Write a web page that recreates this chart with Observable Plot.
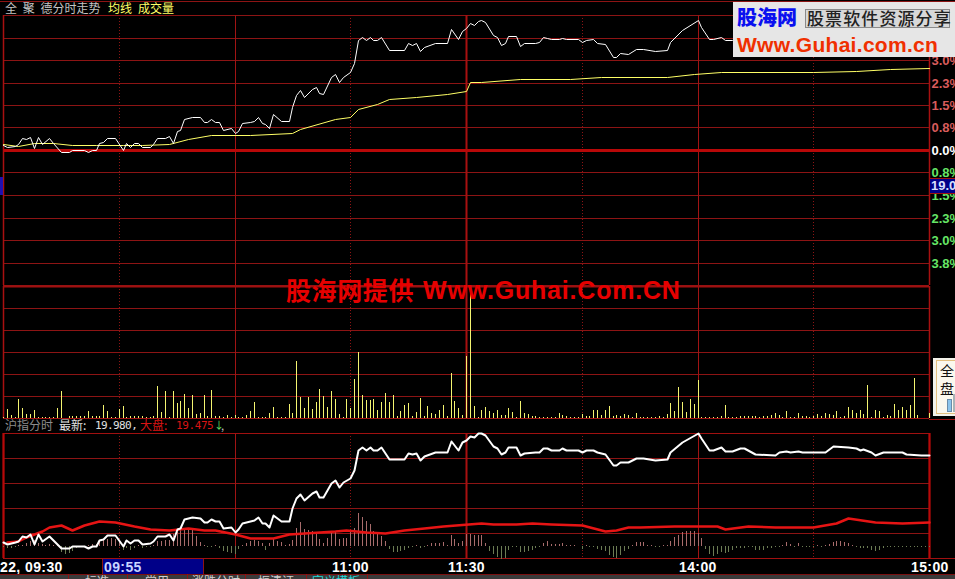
<!DOCTYPE html>
<html>
<head>
<meta charset="utf-8">
<script src="https://cdn.jsdelivr.net/npm/d3@7"></script>
<script src="https://cdn.jsdelivr.net/npm/@observablehq/plot@0.6"></script>
<style>
html,body{margin:0;padding:0;background:#000;overflow:hidden}
#stage{position:relative;width:955px;height:579px;background:#000;overflow:hidden;font-family:"Noto Sans CJK SC",sans-serif}
#stage svg{position:absolute;left:0;background:transparent;overflow:visible;max-width:none}
.t{position:absolute;white-space:pre;line-height:1}
.box{position:absolute}
</style>
</head>
<body>
<div id="stage"></div>
<script>
// Stock price, % change from previous close, by minute of the session (0 = 09:30, 240 = 15:00)
const priceMinutes = [0,1,3,4,5,6,7,8,9,10,12,13,15,17,18,21,22,23,24,25,26,27,29,31,32,33,34,35,36,38,39,40,42,43,44,45,46,47,49,51,52,53,54,55,56,57,59,60,61,62,64,65,66,67,68,69,70,72,74,75,76,77,78,80,81,82,83,85,86,87,88,90,91,92,93,94,95,96,97,98,100,104,105,106,107,108,109,112,115,116,118,119,120,121,122,123,124,125,127,128,129,130,131,133,134,135,138,139,140,141,142,144,145,146,149,150,151,153,154,156,158,159,160,162,164,166,169,172,173,176,180,181,183,184,186,187,189,191,192,195,200,201,203,204,206,207,213,215,219,221,222,223,225,226,228,233,234,238,240];
const priceValues = [0.17,0.09,0.14,0.20,0.39,0.36,0.45,0.08,0.45,0.20,0.39,0.25,-0.07,-0.07,-0.01,0,-0.07,0,0,0.25,0.28,0.41,0.41,0,0.25,0.11,0.25,0.25,0.09,0.10,0.20,0.39,0.39,0.47,0.25,0.65,0.68,1.04,1.13,1.10,0.93,0.93,1.06,0.96,0.95,0.68,0.73,0.56,0.65,0.90,0.96,0.99,1.13,0.90,0.88,0.74,1.20,0.97,0.97,1.46,1.86,2.03,1.78,2.07,2.12,1.91,1.90,2.45,2.57,2.29,2.48,2.65,2.93,3.72,3.83,3.72,3.83,3.72,3.72,3.83,3.38,3.38,3.60,3.56,3.60,3.34,3.49,3.63,3.63,4.08,3.74,4.03,4.11,4.28,4.22,4.37,4.39,4.32,3.88,3.81,3.55,3.63,3.85,3.85,3.51,3.60,3.63,3.65,3.81,3.79,3.74,3.74,3.79,3.74,3.74,3.66,3.72,3.74,3.63,3.58,3.15,3.13,3.27,3.24,3.42,3.42,3.33,3.38,3.66,4.05,4.39,4.17,3.74,3.74,3.83,3.70,3.70,3.80,3.79,3.57,3.53,3.66,3.70,3.66,3.70,3.66,3.66,3.88,3.82,3.79,3.72,3.77,3.66,3.53,3.66,3.66,3.58,3.54,3.54];
// Average price line
const avgMinutes = [0,4,8,13,18,24,31,36,43,48,54,64,75,77,86,90,92,97,100,107,115,120,121,124,134,147,155,172,179,186,210,221,230,240];
const avgValues = [0.20,0.14,0.23,0.23,0.16,0.16,0.16,0.16,0.20,0.36,0.50,0.51,0.57,0.70,1.04,1.10,1.37,1.54,1.71,1.80,1.88,2.00,2.29,2.29,2.39,2.41,2.45,2.45,2.58,2.62,2.63,2.68,2.72,2.76];
// Shanghai index, same scale as the stock in the lower panel
const indexMinutes = [1,4,6,10,12,15,18,21,25,29,34,38,43,48,52,55,60,64,70,74,86,89,94,99,104,109,114,124,127,133,137,142,150,156,159,162,165,174,185,187,193,200,210,216,219,226,233,240];
const indexValues = [0.17,0.21,0.36,0.59,0.75,0.80,0.62,0.81,0.98,0.94,0.78,0.65,0.62,0.68,0.62,0.62,0.47,0.32,0.32,0.47,0.58,0.62,0.56,0.49,0.62,0.68,0.79,0.90,0.85,0.85,0.90,0.85,0.83,0.58,0.62,0.75,0.72,0.78,0.78,0.67,0.78,0.72,0.72,0.88,1.10,0.94,0.90,0.93];
// Volume per minute, minute 0 to 240
const volumes = [
1,9,3,1,19,10,4,4,8,1,
1,1,1,1,10,27,0,2,2,2,
2,2,7,2,2,2,13,7,1,1,
9,12,1,2,2,2,2,1,1,2,
32,6,27,1,27,15,17,24,10,23,
4,5,23,2,28,2,2,1,3,1,
3,1,1,3,7,16,1,1,1,5,
11,1,1,1,14,5,57,21,10,21,
9,16,29,22,11,27,19,4,1,19,
10,39,66,23,18,18,19,8,16,25,
16,23,2,7,13,15,2,6,20,2,
12,5,4,8,13,2,45,17,10,3,
62,131,12,1,8,11,7,5,8,3,
3,10,6,1,17,5,4,2,2,1,
1,1,1,1,5,3,2,1,1,1,
4,2,2,8,8,3,8,12,2,3,
2,4,3,1,5,1,1,1,1,1,
2,1,4,15,7,31,16,6,19,14,
38,1,1,1,1,1,2,13,1,1,
1,2,2,2,2,2,1,2,2,3,
5,3,1,7,1,1,5,2,2,1,
2,4,2,5,4,3,7,1,2,11,
8,5,8,4,33,1,8,7,1,3,
2,14,8,11,8,13,40,3,0,0,
5];
// Index momentum histogram per minute, minute 0 to 240
const momentum = [
-1,-2,-2,-1,1,1,3,5,6,3,
2,1,2,1,1,-6,-8,-7,-5,-2,
-1,-1,1,2,2,5,7,7,8,7,
4,-4,-2,-4,-2,1,-2,-1,-1,1,
5,5,6,6,12,14,16,16,16,16,
10,4,1,-1,-1,1,-2,-5,-6,-7,
-8,-3,1,3,5,6,5,3,-4,3,
8,5,4,1,2,6,18,24,17,16,
15,12,7,3,8,14,15,7,8,8,
14,18,33,29,25,22,15,13,10,5,
-3,-6,-6,-5,-4,-2,-1,1,-2,-1,
1,3,3,3,4,1,11,7,3,5,
12,12,11,11,11,3,-5,-8,-11,-13,
-12,-4,-1,-1,-6,-6,-5,-4,-2,-1,
3,5,2,2,2,3,1,1,1,0,
-3,1,-1,-1,-3,-4,-5,-9,-11,-12,
-9,-5,-3,1,4,4,4,1,1,-1,
-1,1,1,5,9,11,14,15,15,15,
13,8,-3,-8,-10,-8,-6,-7,-6,-4,
-2,-2,-2,-1,-1,-4,-4,-4,-2,-2,
-1,-1,1,4,2,-1,3,-1,-1,-1,
-1,1,-1,1,2,4,5,5,4,3,
1,-1,-2,-2,-2,-4,-5,-4,-2,-1,
-1,-1,-1,-1,-1,-1,-1,-1,-1,-1,
-1];
const momentumUnit = 0.0388;

// Scale ticks
const pctGrid   = [3.8,3.04,2.28,1.52,0.76,-0.76,-1.52,-2.28,-3.04,-3.8];
const pctTicks  = [3.04,2.28,1.52,0.76,0,-0.76,-1.52,-2.28,-3.04,-3.8];
const pctLabels = ["3.0%","2.3%","1.5%","0.8%","0.0%","0.8%","1.5%","2.3%","3.0%","3.8%"];
const pctColors = ["#d85c5c","#d85c5c","#d85c5c","#d85c5c","#ffffff","#66e566","#66e566","#66e566","#66e566","#66e566"];
const pctEdges  = [4.56,-4.56];
const volumeGrid = [22,44,66,88,110];
const lowerGrid  = [0.5,1.47,2.44,3.41];
const lowerEdges = [-0.465,4.38];
const solidMinutes  = [60,180];
const boldMinutes   = [120];
const dottedMinutes = [30,90,150,210];
const edgeMinutes   = [0,240];

const GRID = "#8c1414", EDGE = "#a81010", BRIGHT = "#b80808";
const xOpt = {domain:[0,240], axis:null, round:true};
const frame = {width:955, marginLeft:3, marginRight:26};

function verticals(){
  return [
    Plot.ruleX(dottedMinutes,{stroke:GRID,strokeDasharray:"1,2"}),
    Plot.ruleX(solidMinutes,{stroke:"#a01414"}),
    Plot.ruleX(boldMinutes,{stroke:"#a81010",strokeWidth:2}),
    Plot.ruleX(edgeMinutes,{stroke:EDGE,strokeWidth:1.5})
  ];
}
function zip(xs,ys){ return xs.map((m,i)=>({m,v:ys[i]})); }
function place(svg,top){ svg.style.top = top+"px"; return svg; }

const stage = document.getElementById("stage");

// Price panel
stage.append(place(Plot.plot({
  ...frame, height:286, marginTop:15, marginBottom:1,
  style:{background:"transparent",overflow:"visible"},
  x:xOpt, y:{domain:[-4.56,4.56],axis:null,round:true},
  marks:[
    Plot.ruleY(pctGrid,{stroke:GRID}),
    Plot.ruleY(pctEdges,{stroke:GRID}),
    ...verticals(),
    Plot.ruleY([0],{stroke:BRIGHT,strokeWidth:3}),
    Plot.line(zip(avgMinutes,avgValues),{x:"m",y:"v",stroke:"#ffff66",strokeWidth:1}),
    Plot.line(zip(priceMinutes,priceValues),{x:"m",y:"v",stroke:"#ffffff",strokeWidth:1}),
    Plot.text(pctTicks,{x:()=>240,y:d=>d,dx:2,text:(d,i)=>pctLabels[i],fill:(d,i)=>pctColors[i],textAnchor:"start",fontFamily:"Liberation Sans",fontWeight:"bold",fontSize:13})
  ]
}),0));

// Volume panel
stage.append(place(Plot.plot({
  ...frame, height:134, marginTop:1, marginBottom:1,
  style:{background:"transparent",overflow:"visible"},
  x:xOpt, y:{domain:[0,132],axis:null,round:true},
  marks:[
    Plot.ruleY(volumeGrid,{stroke:GRID}),
    ...verticals(),
    Plot.ruleY([132],{stroke:"#a01010",strokeWidth:2}),
    Plot.ruleY([0],{stroke:"#a01010"}),
    Plot.ruleX(volumes.map((v,m)=>({m,v})).filter(d=>d.v>0),{x:"m",y1:0,y2:"v",stroke:"#f4f470",strokeWidth:1})
  ]
}),285));

// Lower (index) panel
stage.append(place(Plot.plot({
  ...frame, height:127, marginTop:1, marginBottom:1,
  style:{background:"transparent",overflow:"visible"},
  x:xOpt, y:{domain:lowerEdges,axis:null,round:true},
  marks:[
    Plot.ruleY(lowerGrid,{stroke:GRID}),
    Plot.ruleY(lowerEdges,{stroke:"#a01010"}),
    ...verticals(),
    Plot.ruleX(edgeMinutes,{stroke:"#b80808",strokeWidth:2}),
    Plot.ruleX(momentum.map((v,m)=>({m,v})).filter(d=>d.v!==0),{x:"m",y1:0,y2:d=>d.v*momentumUnit,stroke:d=>d.v>0?"#a86c6c":"#6c7c54",strokeWidth:1}),
    Plot.line(zip(indexMinutes,indexValues),{x:"m",y:"v",stroke:"#e61414",strokeWidth:2.5}),
    Plot.line(zip(priceMinutes,priceValues),{x:"m",y:"v",stroke:"#ffffff",strokeWidth:2})
  ]
}),432));

// Text and furniture around the panels
function box(l,t,w,h,css){ const d=document.createElement("div"); d.className="box"; d.style.cssText+=`left:${l}px;top:${t}px;width:${w}px;height:${h}px;${css||""}`; stage.append(d); return d; }
function txt(s,l,t,size,color,css){ const d=document.createElement("div"); d.className="t"; d.textContent=s; d.style.cssText+=`left:${l}px;top:${t}px;font-size:${size}px;color:${color};${css||""}`; stage.append(d); return d; }

box(0,1,955,1,"background:#8c1414");
box(929,419,26,1,"background:#a01010");
box(929,558,26,1,"background:#a01010");

txt("全 聚 德分时走势",5,2,12,"#c4c4c4","word-spacing:3px");
txt("均线",108,2,12,"#ffff66");
txt("成交量",138,2,12,"#ffff66");

txt("沪指分时",5,419,12,"#8c8c8c");
txt("最新:",59,419,12,"#e0e0e0");
txt("19.980,",95,420,11,"#e0e0e0","font-family:'DejaVu Sans Mono';letter-spacing:-0.6px");
txt("大盘:",140,419,12,"#d81414");
txt("19.475",176,420,11,"#d81414","font-family:'DejaVu Sans Mono';letter-spacing:-0.4px");
txt("↓",214,420,10,"#66e566");
txt(",",221,420,11,"#bbbbbb");

// Time axis
const timeFont = "font-family:'Liberation Sans';font-weight:bold;letter-spacing:.4px";
box(102,559,102,15,"background:#000088;border-right:1px solid #8c1414;border-left:1px solid #8c1414;box-sizing:border-box");
txt("22, 09:30",0,560,14,"#ffffff",timeFont);
txt("09:55",104,560,14,"#c8d4ff",timeFont);
txt("11:00",332,560,14,"#ffffff",timeFont);
txt("11:30",448,560,14,"#ffffff",timeFont);
txt("14:00",679,560,14,"#ffffff",timeFont);
txt("15:00",911,560,14,"#ffffff",timeFont);

// Tab strip, cut off by the window
box(0,574,955,5,"background:#3a3a3a;border-top:1px solid #7a1010;box-sizing:border-box");
[68,127,187,245,306,367].forEach(x=>box(x,574,1,5,"background:#8c1414"));
txt("标准",85,575,12,"#d0d0d0");
txt("常用",145,575,12,"#d0d0d0");
txt("涨跌分时",192,575,12,"#d0d0d0");
txt("振清证",258,575,12,"#d0d0d0");
txt("定义模板",312,575,12,"#22d8d8");

// Left cursor marker and current price tag
box(0,177,3,18,"background:#2010b0");
box(929,178,26,16,"background:#000088;border:1px solid #a01010;border-right:0;box-sizing:border-box");
txt("19.0",931,179,13,"#d8e0ff","font-family:'Liberation Sans';font-weight:bold");

// Floating pop-up at the right edge
box(933,358,22,58,"background:#f4f2ea");
box(936,360,19,54,"background:#fbf8ee;border:1px solid #e4c080;border-right:0;box-sizing:border-box");
txt("全",940,363,14,"#111");
txt("盘",940,381,14,"#111");
box(947,399,5,13,"background:#8cc4ec;border:1px solid #6a8caa;box-sizing:border-box");
box(953,394,2,18,"background:#a8b4b8");

// Site watermark in the centre
txt("股海网提供",286,277,25,"#e60000","font-weight:700;letter-spacing:.6px");
txt("Www.Guhai.Com.CN",423,278,25,"#e60000","font-family:'Liberation Sans';font-weight:700;letter-spacing:.8px");

// Site logo, top right
box(733,2,222,55,"background:#e6e6e6");
box(805,9,145,19,"background:#d8d8d8;border:1px solid #8a8a8a;box-sizing:border-box");
txt("股海网",737,7,20,"#0a10f0","font-weight:900");
txt("股票软件资源分享",807,9,17,"#222222","font-weight:500;letter-spacing:1.1px");
txt("Www.Guhai.com.cn",737,34,21,"#f03000","font-family:'Liberation Sans';font-weight:700;letter-spacing:.3px");
</script>
</body>
</html>
